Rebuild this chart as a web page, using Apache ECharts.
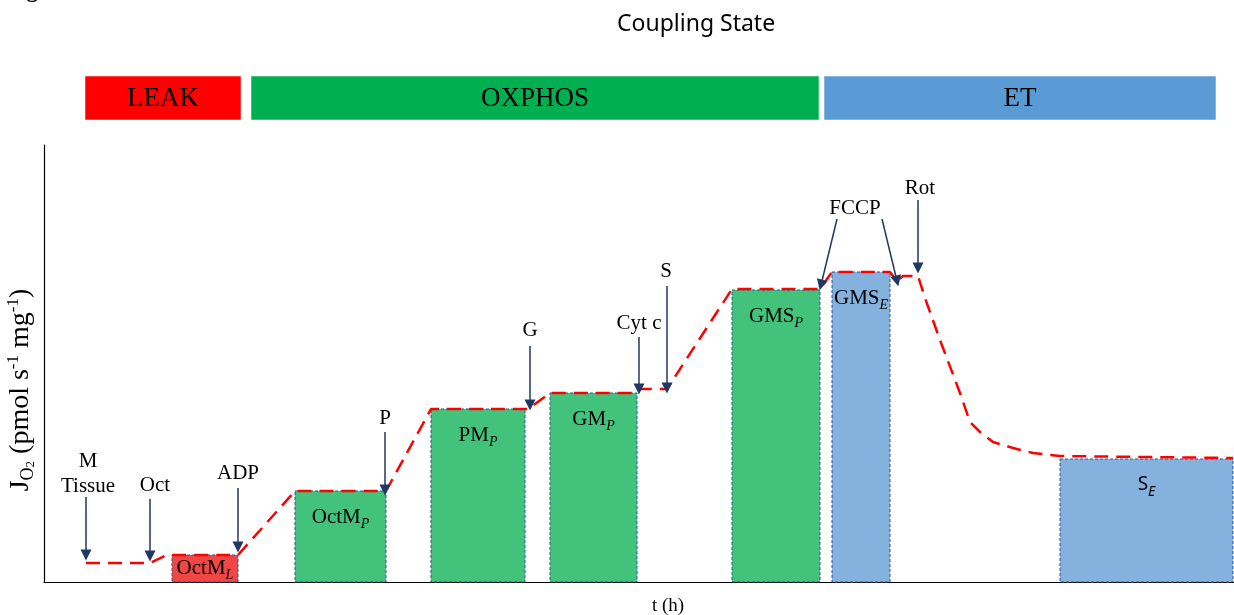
<!DOCTYPE html>
<html>
<head>
<meta charset="utf-8">
<script src="https://cdn.jsdelivr.net/npm/echarts@6/dist/echarts.min.js"></script>
<style>
html, body { margin: 0; padding: 0; background: #fff; }
#main { width: 1234px; height: 615px; }
</style>
</head>
<body>
<div id="main"></div>
<script>
// time axis and flux axis are in arbitrary units
var phaseNames = ['LEAK', 'OXPHOS', 'ET'];
var phaseStart = [41, 207, 780];
var phaseEnd = [197, 775, 1172];

var stepNames = ['OctM', 'OctM', 'PM', 'GM', 'GMS', 'GMS', 'S'];
var stepStates = ['L', 'P', 'P', 'P', 'P', 'E', 'E'];
var stepStart = [128, 251, 387, 506, 688, 788, 1016];
var stepEnd = [194, 342, 481, 593, 776, 846, 1189];
var stepFlux = [27, 91, 173, 189, 292, 310, 123];

var traceTime = [42, 106, 123, 194, 251, 342, 387, 484, 506, 593, 596, 623, 688, 776, 788, 846, 853, 859, 874, 881, 896, 916, 926, 936, 949, 969, 989, 1016, 1189];
var traceFlux = [19, 19, 27, 27, 91, 91, 173, 173, 189, 189, 193, 193, 293, 293, 310, 310, 301, 306, 306, 284, 242, 189, 160, 150, 140, 134, 129, 126, 124];

var addNames = ['M\nTissue', 'Oct', 'ADP', 'P', 'G', 'Cyt c', 'S', 'FCCP', 'Rot'];
var addTime = [44, 111, 194, 341, 486, 595, 622, 811, 876];
var addFlux = [108, 97, 109, 164, 252, 259, 311, 374, 394];

var arrowFrom = [[42, 85], [106, 83], [194, 94], [341, 150], [486, 236], [595, 245], [623, 296], [793, 363], [838, 363], [874, 382]];
var arrowTo = [[42, 27], [106, 26], [194, 35], [341, 92], [486, 177], [595, 193], [623, 194], [777, 297], [853, 301], [874, 314]];

var phaseColor = { LEAK: '#ff0000', OXPHOS: '#00b050', ET: '#5b9bd5' };
var stateColor = { L: '#f14646', P: '#43c27b', E: '#85b1de' };
var serif = 'Liberation Serif';

var myChart = echarts.init(document.getElementById('main'));

var option = {
  animation: false,
  title: {
    text: 'Coupling State',
    left: 612,
    top: 8,
    textStyle: { fontFamily: 'Noto Sans', fontSize: 23, fontWeight: 'normal', color: '#000' }
  },
  grid: [
    { left: 44, right: 0, top: 145, bottom: 33 },
    { left: 44, right: 0, top: 76, height: 44 }
  ],
  xAxis: [
    {
      type: 'value', min: 0, max: 1190, gridIndex: 0,
      axisLine: { show: true, lineStyle: { color: '#000', width: 1.2 } },
      axisTick: { show: false }, axisLabel: { show: false }, splitLine: { show: false }
    },
    { type: 'value', min: 0, max: 1190, gridIndex: 1, show: false }
  ],
  yAxis: [
    {
      type: 'value', min: 0, max: 437, gridIndex: 0,
      axisLine: { show: true, lineStyle: { color: '#000', width: 1.2 } },
      axisTick: { show: false }, axisLabel: { show: false }, splitLine: { show: false }
    },
    { type: 'value', min: 0, max: 1, gridIndex: 1, show: false }
  ],
  graphic: [
    {
      type: 'text', x: 5, y: 3,
      style: { text: 'Figures', font: 'bold 24px "Liberation Serif"', fill: '#000', verticalAlign: 'bottom' }
    },
    {
      type: 'text', x: 21, y: 390, rotation: Math.PI / 2,
      style: {
        text: '{a|J}{b|O}{c|2}{a| (pmol s}{d|-1}{a| mg}{d|-1}{a|)}',
        align: 'center', verticalAlign: 'middle',
        rich: {
          a: { fontFamily: serif, fontSize: 28, lineHeight: 32, color: '#000' },
          b: { fontFamily: serif, fontSize: 18, lineHeight: 20, verticalAlign: 'bottom', color: '#000' },
          c: { fontFamily: serif, fontSize: 13, lineHeight: 12, verticalAlign: 'bottom', color: '#000' },
          d: { fontFamily: serif, fontSize: 17, lineHeight: 24, verticalAlign: 'top', color: '#000' }
        }
      }
    },
    {
      type: 'text', x: 668, y: 606,
      style: { text: 't (h)', font: '19px "Liberation Serif"', fill: '#000', align: 'center', verticalAlign: 'middle' }
    }
  ],
  series: [
    {
      type: 'custom',
      xAxisIndex: 1, yAxisIndex: 1,
      data: phaseNames.map(function (n, i) { return [phaseStart[i], phaseEnd[i]]; }),
      renderItem: function (params, api) {
        var p0 = api.coord([api.value(0), 1]);
        var p1 = api.coord([api.value(1), 0]);
        var name = phaseNames[params.dataIndex];
        return {
          type: 'group',
          children: [
            {
              type: 'rect',
              shape: { x: p0[0], y: p0[1], width: p1[0] - p0[0], height: p1[1] - p0[1] },
              style: { fill: phaseColor[name], stroke: 'rgba(255,255,255,0.5)', lineWidth: 1 }
            },
            {
              type: 'text',
              x: (p0[0] + p1[0]) / 2, y: (p0[1] + p1[1]) / 2 + 1,
              style: { text: name, font: '27px "Liberation Serif"', fill: '#000', align: 'center', verticalAlign: 'middle' }
            }
          ]
        };
      }
    },
    {
      type: 'custom',
      z: 2,
      data: stepNames.map(function (n, i) { return [stepStart[i], stepEnd[i], stepFlux[i]]; }),
      renderItem: function (params, api) {
        var i = params.dataIndex;
        var p0 = api.coord([api.value(0), api.value(2)]);
        var p1 = api.coord([api.value(1), 0]);
        var h = p1[1] - p0[1];
        var sans = stepNames[i] === 'S';
        var fam = sans ? 'Noto Sans' : serif;
        return {
          type: 'group',
          children: [
            {
              type: 'rect',
              shape: { x: p0[0], y: p0[1], width: p1[0] - p0[0], height: h },
              style: { fill: stateColor[stepStates[i]], stroke: '#2f5597', lineWidth: 1, lineDash: [3, 2] }
            },
            {
              type: 'text',
              x: (p0[0] + p1[0]) / 2, y: p0[1] + Math.min(26, h / 2),
              style: {
                text: '{n|' + stepNames[i] + '}{s|' + stepStates[i] + '}',
                align: 'center', verticalAlign: 'middle',
                rich: {
                  n: { fontFamily: fam, fontSize: sans ? 19 : 21, lineHeight: 28, fill: '#000' },
                  s: { fontFamily: fam, fontSize: 14, fontStyle: 'italic', lineHeight: 14, verticalAlign: 'bottom', fill: '#000' }
                }
              }
            }
          ]
        };
      }
    },
    {
      type: 'line',
      z: 3,
      data: traceTime.map(function (t, i) { return [t, traceFlux[i]]; }),
      showSymbol: false,
      symbol: 'none',
      lineStyle: { color: '#ff0000', width: 2.5, type: [14, 8] }
    },
    {
      type: 'lines',
      coordinateSystem: 'cartesian2d',
      z: 4,
      symbol: ['none', 'triangle'],
      symbolSize: [0, 11],
      lineStyle: { color: '#1f3864', width: 1.5, opacity: 1, curveness: 0 },
      data: arrowFrom.map(function (p, i) { return { coords: [p, arrowTo[i]] }; })
    },
    {
      type: 'scatter',
      z: 5,
      symbolSize: 0,
      itemStyle: { color: '#000', opacity: 1 },
      data: addNames.map(function (n, i) { return { name: n, value: [addTime[i], addFlux[i]] }; }),
      label: {
        show: true, position: 'inside', formatter: '{b}',
        fontFamily: serif, fontSize: 21, lineHeight: 25, color: '#000',
        textBorderWidth: 0, opacity: 1
      }
    }
  ]
};

window.onresize = myChart.resize;
myChart.setOption(option);
</script>
</body>
</html>
